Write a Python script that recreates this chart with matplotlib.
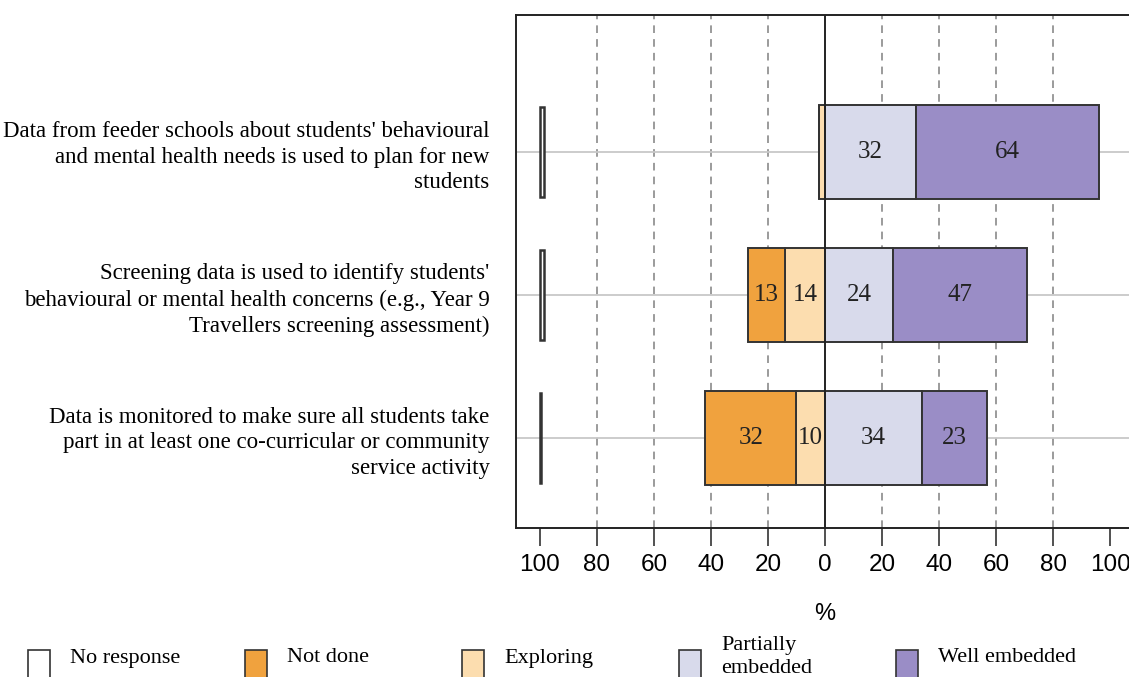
import numpy as np
import matplotlib.pyplot as plt
from matplotlib.patches import Rectangle

# data (percent)
items = ["Data from feeder schools about students' behavioural\nand mental health needs is used to plan for new\nstudents",
         "Screening data is used to identify students'\nbehavioural or mental health concerns (e.g., Year 9\nTravellers screening assessment)",
         "Data is monitored to make sure all students take\npart in at least one co-curricular or community\nservice activity"]
no_response = [1.5, 1.5, 0.4]
not_done = [0, 13, 32]
exploring = [2, 14, 10]
partially = [32, 24, 34]
well = [64, 47, 23]

cats = ["No response", "Not done", "Exploring", "Partially\nembedded", "Well embedded"]
colors = ["white", "#F0A23E", "#FCDDAF", "#D8DAEB", "#9A8DC6"]

serif = "Liberation Serif"
sans = "Liberation Sans"

W, H = 1129, 677
fig = plt.figure(figsize=(W / 100, H / 100), dpi=100)
ax = fig.add_axes([516/W, 1 - 528/H, (1134 - 516)/W, (528 - 15)/H])

y = np.array([2, 1, 0])
h = 0.66

# grid
for v in [-80, -60, -40, -20, 20, 40, 60, 80]:
    ax.axvline(v, color="#808080", ls=(0, (5, 4)), lw=1.1, zorder=0)
for yy in y:
    ax.axhline(yy, color="#c8c8c8", lw=1.3, zorder=0)

ec = "#333333"
# no response at the left margin
for i in range(3):
    ax.barh(y[i], no_response[i], left=-100, height=h * 0.95, color=colors[0],
            edgecolor=ec, lw=1.8, zorder=2)

# negative side
ax.barh(y, exploring, left=-np.array(exploring), height=h, color=colors[2], edgecolor=ec, lw=1.4, zorder=2)
ax.barh(y, not_done, left=-np.array(exploring) - np.array(not_done), height=h, color=colors[1], edgecolor=ec, lw=1.4, zorder=2)
# positive side
ax.barh(y, partially, left=0, height=h, color=colors[3], edgecolor=ec, lw=1.4, zorder=2)
ax.barh(y, well, left=partially, height=h, color=colors[4], edgecolor=ec, lw=1.4, zorder=2)

# segment labels
for i in range(3):
    segs = [(-exploring[i] - not_done[i], not_done[i]), (-exploring[i], exploring[i]),
            (0, partially[i]), (partially[i], well[i])]
    for left, w in segs:
        if w >= 10:
            ax.text(left + w / 2, y[i], str(w), ha="center", va="center",
                    fontsize=18, family=serif, color="#222222", zorder=3)

ax.axvline(0, color="#222222", lw=1.4, zorder=4)

ax.set_xlim(-108.4, 108.4)
ax.set_ylim(-0.63, 2.96)
ax.set_xticks(np.arange(-100, 101, 20))
ax.set_xticklabels([str(abs(v)) for v in range(-100, 101, 20)], family=sans, fontsize=17.5)
ax.tick_params(axis="x", length=13, width=1.2, pad=6, color="#333333")
ax.set_yticks(y)
ax.set_yticklabels(items, family=serif, fontsize=16.5, linespacing=1.3)
ax.tick_params(axis="y", length=0, pad=19)
ax.set_xlabel("%", family=sans, fontsize=17, labelpad=19)
for s in ax.spines.values():
    s.set_linewidth(1.4)
    s.set_color("#222222")

# legend drawn by hand: equal-width columns like the original
x0, dx = 28, 217
for i, (c, lab) in enumerate(zip(colors, cats)):
    xs = x0 + i * dx
    fig.patches.append(Rectangle((xs / W, 1 - 680 / H), 22 / W, 30 / H, facecolor=c,
                                 edgecolor="#333333", lw=1.2, transform=fig.transFigure))
    ty = 657 if "\n" in lab else 658
    fig.text((xs + 42) / W, 1 - ty / H, lab, family=serif, fontsize=16,
             va="center", ha="left", linespacing=1.25)

fig.savefig("out.png", dpi=100)
